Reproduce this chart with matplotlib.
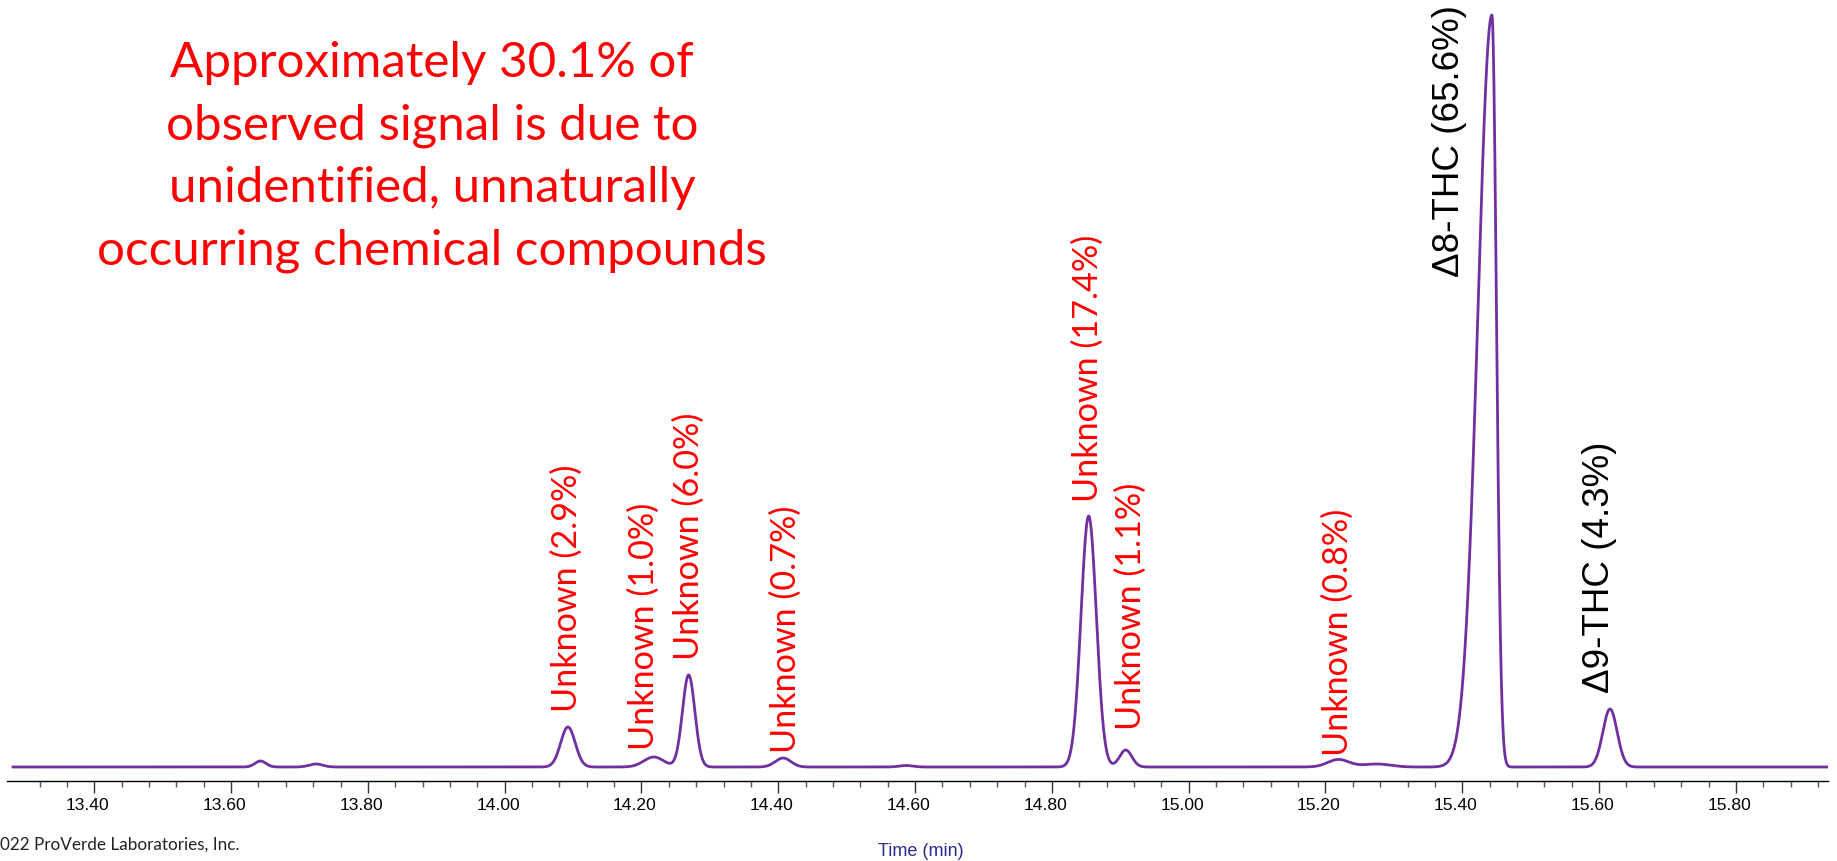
import numpy as np
import matplotlib.pyplot as plt
from matplotlib.ticker import FixedLocator
from matplotlib.transforms import ScaledTranslation

# Peak table: retention time (min), apex height
# above baseline (detector units), front / tail widths (sigma, min)
peak_times = [13.643, 13.724, 14.0925, 14.218, 14.269, 14.407, 14.587,
              14.8538, 14.908, 15.219, 15.275, 15.4434, 15.616]
peak_heights = [6, 3, 40, 10, 92, 9, 1.5, 251, 17, 7.5, 3, 752, 58]
peak_sigma_front = [0.008, 0.010, 0.0106, 0.0146, 0.0091, 0.0114, 0.010,
                    0.0112, 0.009, 0.0156, 0.020, 0.0205, 0.0105]
peak_sigma_tail = [0.008, 0.010, 0.0106, 0.0146, 0.0091, 0.0114, 0.010,
                   0.0112, 0.009, 0.0156, 0.020, 0.0066, 0.0105]

# run window (min)
run_start, run_end = 13.2812, 15.9347

# peak labels
label_text = ['Unknown (2.9%)', 'Unknown (1.0%)', 'Unknown (6.0%)',
              'Unknown (0.7%)', 'Unknown (17.4%)', 'Unknown (1.1%)',
              'Unknown (0.8%)', 'Δ8-THC (65.6%)', 'Δ9-THC (4.3%)']
label_time = [14.091, 14.203, 14.269, 14.411, 14.853, 14.916, 15.218,
              15.381, 15.600]
label_base = [56, 18, 108, 15, 266, 38, 12, 491, 75]
label_known = [False] * 7 + [True, True]

major_ticks = [13.40, 13.60, 13.80, 14.00, 14.20, 14.40, 14.60, 14.80,
               15.00, 15.20, 15.40, 15.60, 15.80]

headline = ['Approximately 30.1% of',
            'observed signal is due to',
            'unidentified, unnaturally',
            'occurring chemical compounds']

TRACE = '#7030A0'
RED = '#FF0000'
W, H = 1837, 862

# build the detector trace from the peak table (asymmetric gaussians)
t = np.linspace(run_start, run_end, 6000)
signal = np.zeros_like(t)
for t0, h, sf, st in zip(peak_times, peak_heights, peak_sigma_front, peak_sigma_tail):
    sig = np.where(t < t0, sf, st)
    signal += h * np.exp(-0.5 * ((t - t0) / sig) ** 2)

fig = plt.figure(figsize=(W / 100, H / 100), dpi=100)
ax = fig.add_axes([7 / W, 1 - 782 / H, (1828 - 7) / W, 782 / H])

ax.plot(t, signal, color=TRACE, lw=2.0, solid_joinstyle='round')

ax.set_xlim(13.2724, 15.9347)
ax.set_ylim(-14, 768)

for side in ['left', 'right', 'top']:
    ax.spines[side].set_visible(False)
ax.spines['bottom'].set_linewidth(1.0)
ax.set_yticks([])

ax.xaxis.set_major_locator(FixedLocator(major_ticks))
minor = np.round(np.arange(13.32, 15.93, 0.04), 2)
ax.xaxis.set_minor_locator(FixedLocator(minor))
ax.set_xticklabels([f'{v:.2f}' for v in major_ticks])
ax.tick_params(axis='x', which='major', length=8.6, width=1.0, color='#333333',
               pad=3, labelsize=12.6)
ax.tick_params(axis='x', which='minor', length=4.3, width=1.0, color='#555555')
for lbl in ax.get_xticklabels():
    lbl.set_fontfamily('Liberation Sans')

# tick labels sit a little left of their ticks
shift = ScaledTranslation(-0.065, 0, fig.dpi_scale_trans)
for tick in ax.xaxis.get_major_ticks():
    tick.label1.set_transform(tick.label1.get_transform() + shift)

# peak annotations
for txt, x, y, known in zip(label_text, label_time, label_base, label_known):
    if known:
        ax.text(x, y, txt, rotation=90, ha='center', va='bottom',
                color='black', fontsize=26.5, family='Liberation Sans')
    else:
        ax.text(x, y, txt, rotation=90, ha='center', va='bottom',
                color=RED, fontsize=24.6, family='Lato')

# headline block
for i, line in enumerate(headline):
    fig.text(432 / W, 1 - (77 + i * 62.6) / H, line, ha='center', va='baseline',
             color=RED, fontsize=35.5, family='Lato')

fig.text(921 / W, 1 - 852 / H, 'Time (min)', ha='center', va='center',
         color='#2B2B8C', fontsize=13, family='Liberation Sans')
fig.text(239 / W, 1 - 845 / H, '022 ProVerde Laboratories, Inc.', ha='right',
         va='center', color='#222222', fontsize=12.3, family='Lato')

fig.savefig('out.png', dpi=100)
